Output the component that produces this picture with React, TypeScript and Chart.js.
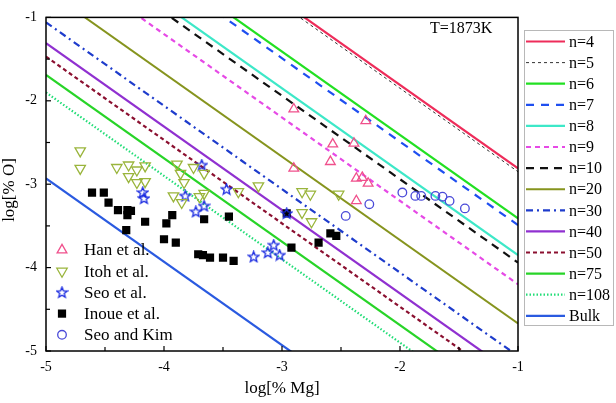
import React, { useEffect, useRef } from "react";
import { Chart, registerables } from "chart.js";

Chart.register(...registerables);

// ---- data ----
const lineLabels = ["n=4", "n=5", "n=6", "n=7", "n=8", "n=9", "n=10", "n=20", "n=30", "n=40", "n=50", "n=75", "n=108", "Bulk"];
// each model line: log[%O] = intercept - log[%Mg]
const lineIntercepts = [-3.81, -3.85, -4.41, -4.49, -4.85, -5.2, -4.94, -5.67, -6.06, -6.31, -6.47, -6.69, -6.9, -7.93];
const lineColors = ["#ee2c5a", "#333333", "#22e022", "#1f4ff0", "#3de8c8", "#e64ae6", "#111111", "#86941e", "#1e3ccc", "#9030d0", "#8b1030", "#28d428", "#22dd77", "#2a5ae0"];
const lineWidths = [2.2, 1, 2.2, 2.2, 2.2, 2.2, 2.2, 2, 2.2, 2.2, 2.2, 2.2, 2.2, 2.2];
const lineDashes: number[][] = [[], [3, 3], [], [8, 7], [], [5, 4], [8, 6], [], [7, 4, 2, 4], [], [4, 3], [], [1.5, 2], []];

const xRange = [-5, -1];
const yRange = [-5, -1];
const tickStep = 0.5;

const hanX = [-2.9, -2.29, -2.57, -2.39, -2.59, -2.9, -2.37, -2.32, -2.27, -2.37];
const hanY = [-2.1, -2.24, -2.52, -2.51, -2.73, -2.81, -2.93, -2.92, -2.99, -3.2];

const itohX = [-4.71, -4.71, -4.4, -4.3, -4.23, -4.16, -4.3, -4.23, -4.16, -3.89, -3.75, -3.86, -3.83, -3.66, -3.92, -3.85, -3.7, -3.66, -3.37, -3.2, -2.83, -2.76, -2.52, -2.83, -2.75];
const itohY = [-2.6, -2.81, -2.8, -2.77, -2.83, -2.78, -2.91, -2.98, -2.97, -2.76, -2.8, -2.87, -2.98, -2.87, -3.14, -3.22, -3.15, -3.11, -3.09, -3.02, -3.09, -3.12, -3.12, -3.34, -3.45];

const seoX = [-3.68, -4.18, -4.17, -3.82, -3.47, -3.66, -3.73, -3.24, -3.07, -3.12, -3.02, -2.96];
const seoY = [-2.77, -3.1, -3.17, -3.14, -3.06, -3.26, -3.33, -3.87, -3.73, -3.82, -3.85, -3.35];

const inoueX = [-4.61, -4.51, -4.47, -4.39, -4.31, -4.28, -4.31, -4.16, -4.32, -3.98, -3.93, -4.0, -3.9, -3.66, -3.45, -3.71, -3.67, -3.61, -3.5, -3.41, -2.96, -2.92, -2.69, -2.59, -2.54];
const inoueY = [-3.1, -3.1, -3.22, -3.31, -3.31, -3.32, -3.37, -3.45, -3.55, -3.47, -3.37, -3.66, -3.7, -3.42, -3.39, -3.84, -3.85, -3.88, -3.88, -3.92, -3.35, -3.76, -3.7, -3.59, -3.62];

const seoKimX = [-1.98, -1.87, -1.82, -1.7, -1.64, -1.58, -1.45, -2.26, -2.46];
const seoKimY = [-3.1, -3.14, -3.14, -3.14, -3.15, -3.2, -3.29, -3.24, -3.38];

const pointLabels = ["Han et al.", "Itoh et al.", "Seo et al.", "Inoue et al.", "Seo and Kim"];
const pointColors = ["#f0508c", "#9ab53c", "#1a2ae0", "#000000", "#4a4ad8"];

const tempLabel = "T=1873K";
const xTitle = "log[% Mg]";
const yTitle = "log[% O]";

const FONT = "'Liberation Serif', 'Times New Roman', serif";

function makeStar(color: string): HTMLCanvasElement {
  const c = document.createElement("canvas");
  c.width = 13;
  c.height = 13;
  const g = c.getContext("2d")!;
  const cx = 6.5, cy = 6.8, ro = 5.6, ri = 2.4;
  g.beginPath();
  for (let i = 0; i < 10; i++) {
    const r = i % 2 === 0 ? ro : ri;
    const a = -Math.PI / 2 + (i * Math.PI) / 5;
    const px = cx + r * Math.cos(a);
    const py = cy + r * Math.sin(a);
    if (i === 0) g.moveTo(px, py);
    else g.lineTo(px, py);
  }
  g.closePath();
  g.strokeStyle = color;
  g.lineWidth = 1.3;
  g.stroke();
  return c;
}

function drawMarker(ctx: CanvasRenderingContext2D, ds: any, x: number, y: number) {
  const style = ds.pointStyle;
  const r = ds.pointRadius;
  ctx.save();
  ctx.strokeStyle = ds.borderColor;
  ctx.fillStyle = ds.backgroundColor;
  ctx.lineWidth = ds.borderWidth;
  ctx.setLineDash([]);
  if (style instanceof HTMLCanvasElement) {
    ctx.drawImage(style, x - style.width / 2, y - style.height / 2);
  } else if (style === "triangle") {
    let rad = ((ds.pointRotation || 0) * Math.PI) / 180;
    ctx.beginPath();
    for (let k = 0; k < 3; k++) {
      const px = x + Math.sin(rad) * r;
      const py = y - Math.cos(rad) * r;
      if (k === 0) ctx.moveTo(px, py);
      else ctx.lineTo(px, py);
      rad += (2 * Math.PI) / 3;
    }
    ctx.closePath();
    ctx.stroke();
  } else if (style === "rect") {
    const s = Math.SQRT1_2 * r;
    ctx.fillStyle = ds.backgroundColor;
    ctx.fillRect(x - s, y - s, 2 * s, 2 * s);
  } else {
    ctx.beginPath();
    ctx.arc(x, y, r, 0, Math.PI * 2);
    ctx.stroke();
  }
  ctx.restore();
}

const zip = (xs: number[], ys: number[]) => xs.map((x, i) => ({ x, y: ys[i] }));

export default function App() {
  const ref = useRef<HTMLCanvasElement>(null);

  useEffect(() => {
    document.body.style.margin = "0";
    const star = makeStar(pointColors[2]);

    const pointSets = [
      { label: pointLabels[0], data: zip(hanX, hanY), pointStyle: "triangle", pointRadius: 5.6, pointRotation: 0, borderColor: pointColors[0], backgroundColor: "rgba(0,0,0,0)", borderWidth: 1.3 },
      { label: pointLabels[1], data: zip(itohX, itohY), pointStyle: "triangle", pointRadius: 6, pointRotation: 180, borderColor: pointColors[1], backgroundColor: "rgba(0,0,0,0)", borderWidth: 1.3 },
      { label: pointLabels[2], data: zip(seoX, seoY), pointStyle: star, pointRadius: 6, pointRotation: 0, borderColor: pointColors[2], backgroundColor: "rgba(0,0,0,0)", borderWidth: 1.3 },
      { label: pointLabels[3], data: zip(inoueX, inoueY), pointStyle: "rect", pointRadius: 5.8, pointRotation: 0, borderColor: pointColors[3], backgroundColor: pointColors[3], borderWidth: 0 },
      { label: pointLabels[4], data: zip(seoKimX, seoKimY), pointStyle: "circle", pointRadius: 4.3, pointRotation: 0, borderColor: pointColors[4], backgroundColor: "rgba(0,0,0,0)", borderWidth: 1.3 },
    ].map((d) => ({ ...d, type: "scatter" as const, order: 0, showLine: false, pointHoverRadius: d.pointRadius }));

    const lineSets = lineLabels.map((label, i) => ({
      type: "line" as const,
      label,
      data: [
        { x: xRange[0], y: lineIntercepts[i] - xRange[0] },
        { x: xRange[1], y: lineIntercepts[i] - xRange[1] },
      ],
      borderColor: lineColors[i],
      backgroundColor: lineColors[i],
      borderWidth: lineWidths[i],
      borderDash: lineDashes[i],
      pointRadius: 0,
      fill: false,
      tension: 0,
      order: 1,
    }));

    const decor = {
      id: "decor",
      afterDraw(chart: any) {
        const ctx: CanvasRenderingContext2D = chart.ctx;
        const { left, right, top, bottom } = chart.chartArea;
        const xs = chart.scales.x;
        const ys = chart.scales.y;
        ctx.save();
        // frame
        ctx.strokeStyle = "#000";
        ctx.lineWidth = 1.5;
        ctx.setLineDash([]);
        ctx.strokeRect(left, top, right - left, bottom - top);
        // inward ticks
        ctx.lineWidth = 1.2;
        for (let v = xRange[0]; v <= xRange[1] + 1e-9; v += tickStep) {
          const len = Math.abs(v - Math.round(v)) < 1e-9 ? 5 : 4;
          const px = xs.getPixelForValue(v);
          ctx.beginPath();
          ctx.moveTo(px, bottom);
          ctx.lineTo(px, bottom - len);
          ctx.stroke();
        }
        for (let v = yRange[0]; v <= yRange[1] + 1e-9; v += tickStep) {
          const len = Math.abs(v - Math.round(v)) < 1e-9 ? 5 : 4;
          const py = ys.getPixelForValue(v);
          ctx.beginPath();
          ctx.moveTo(left, py);
          ctx.lineTo(left + len, py);
          ctx.stroke();
        }
        // axis titles
        ctx.fillStyle = "#000";
        ctx.font = `17px ${FONT}`;
        ctx.textAlign = "center";
        ctx.textBaseline = "middle";
        ctx.fillText(xTitle, (left + right) / 2, 389);
        ctx.save();
        ctx.translate(10, 190);
        ctx.rotate(-Math.PI / 2);
        ctx.fillText(yTitle, 0, 0);
        ctx.restore();
        // temperature
        ctx.font = `16px ${FONT}`;
        ctx.textAlign = "left";
        ctx.fillText(tempLabel, 430, 29);

        // right legend for model lines
        ctx.strokeStyle = "#b8b8b8";
        ctx.lineWidth = 1;
        ctx.strokeRect(524.5, 30.5, 89, 295);
        ctx.font = `16px ${FONT}`;
        lineSets.forEach((ds, i) => {
          const y = 41.5 + i * 21.1;
          ctx.beginPath();
          ctx.strokeStyle = ds.borderColor;
          ctx.lineWidth = ds.borderWidth;
          ctx.setLineDash(ds.borderDash);
          ctx.moveTo(526, y);
          ctx.lineTo(565, y);
          ctx.stroke();
          ctx.setLineDash([]);
          ctx.fillStyle = "#000";
          ctx.fillText(ds.label, 569, y + 1);
        });

        // inner legend for measured data
        ctx.font = `17px ${FONT}`;
        pointSets.forEach((ds, i) => {
          const y = 250 + i * 21.2;
          drawMarker(ctx, ds, 62, y);
          ctx.fillStyle = "#000";
          ctx.textAlign = "left";
          ctx.textBaseline = "middle";
          ctx.fillText(ds.label, 84, y + 1);
        });
        ctx.restore();
      },
    };

    const chart = new Chart(ref.current!, {
      type: "scatter",
      data: { datasets: [...pointSets, ...lineSets] as any },
      options: {
        animation: false,
        responsive: false,
        events: [],
        layout: { padding: { left: 0, right: 98, top: 7, bottom: 0 } },
        plugins: { legend: { display: false }, tooltip: { enabled: false } },
        scales: {
          x: {
            type: "linear",
            min: xRange[0],
            max: xRange[1],
            afterFit: (s: any) => { s.height = 52; },
            afterBuildTicks: (s: any) => {
              const t = [];
              for (let v = xRange[0]; v <= xRange[1] + 1e-9; v += 1) t.push({ value: v });
              s.ticks = t;
            },
            grid: { display: false, drawTicks: false },
            border: { display: false },
            ticks: { padding: 8, color: "#000", font: { family: FONT, size: 14 } },
          },
          y: {
            type: "linear",
            min: yRange[0],
            max: yRange[1],
            afterFit: (s: any) => { s.width = 46; },
            afterBuildTicks: (s: any) => {
              const t = [];
              for (let v = yRange[0]; v <= yRange[1] + 1e-9; v += 1) t.push({ value: v });
              s.ticks = t;
            },
            grid: { display: false, drawTicks: false },
            border: { display: false },
            ticks: { padding: 9, color: "#000", font: { family: FONT, size: 14 } },
          },
        },
      },
      plugins: [decor],
    });
    return () => chart.destroy();
  }, []);

  return <canvas ref={ref} width={616} height={403} style={{ display: "block", width: 616, height: 403 }} />;
}
